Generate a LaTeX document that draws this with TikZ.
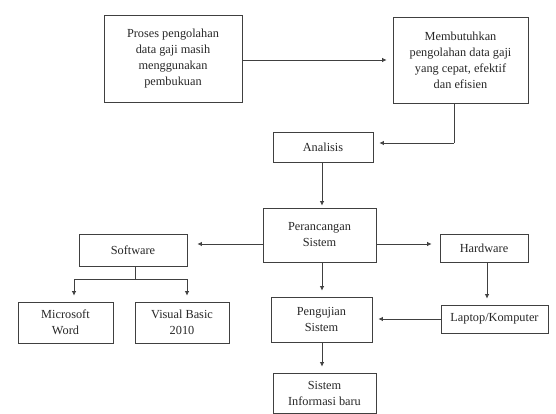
\documentclass[tikz,border=0pt]{standalone}
\usepackage{fontspec}
\setmainfont{Liberation Serif}
\usetikzlibrary{arrows.meta}
\begin{document}
\begin{tikzpicture}[x=1pt,y=-1pt,
  box/.style={draw=black!75, line width=0.8pt, align=center, inner sep=2pt,
    font=\fontsize{12.3}{16}\selectfont, text=black!85},
  link/.style={draw=black!75, line width=0.8pt},
  arr/.style={link, -{Latex[length=4.5pt,width=4.5pt]}, shorten >=6pt}]
\useasboundingbox (0,0) rectangle (556,414);

% process boxes
\node[box, minimum width=138, minimum height=87] (awal) at (173,58.5)
  {Proses pengolahan\\data gaji masih\\menggunakan\\pembukuan};
\node[box, minimum width=135, minimum height=86] (butuh) at (460.5,60)
  {Membutuhkan\\pengolahan data gaji\\yang cepat, efektif\\dan efisien};
\node[box, minimum width=100, minimum height=30] (analisis) at (323,147) {Analisis};
\node[box, minimum width=113, minimum height=54] (rancang) at (319.5,235)
  {Perancangan\\Sistem};
\node[box, minimum width=108, minimum height=32] (soft) at (133,250) {Software};
\node[box, minimum width=88, minimum height=28] (hard) at (484,248) {Hardware};
\node[box, minimum width=95, minimum height=41] (word) at (65.5,322.5)
  {Microsoft\\Word};
\node[box, minimum width=94, minimum height=41] (vb) at (182,322.5)
  {Visual Basic\\2010};
\node[box, minimum width=101, minimum height=45] (uji) at (321.5,319.5)
  {Pengujian\\Sistem};
\node[box, minimum width=107, minimum height=28] (laptop) at (494.5,319)
  {Laptop/Komputer};
\node[box, minimum width=103, minimum height=40] (baru) at (324.5,393)
  {Sistem\\Informasi baru};

% connectors
\draw[arr] ([yshift=-1.5pt]awal.east) -- ([yshift=-1.5pt]awal.east -| butuh.west);
\coordinate (b1) at ([xshift=-6.5pt]butuh.south);
\coordinate (b2) at (b1 |- 0,143);
\draw[link] (b1) -- (b2);
\draw[arr] (b2) -- (b2 -| analisis.east);
\coordinate (v0) at (322,0);
\draw[arr, shorten >=2pt] (v0 |- analisis.south) -- (v0 |- rancang.north);
\draw[arr] (v0 |- rancang.south) -- (v0 |- uji.north);
\draw[arr] (v0 |- uji.south) -- (v0 |- baru.north);
\coordinate (r) at (0,244);
\draw[arr, shorten >=10pt] (r -| rancang.west) -- (r -| soft.east);
\draw[arr, shorten >=8pt] (r -| rancang.east) -- (r -| hard.west);
\coordinate (sj) at ([xshift=2pt]soft.south);
\coordinate (sk) at (sj |- 0,279);
\draw[link] (sj) -- (sk);
\coordinate (wt) at ([xshift=8.5pt]word.north);
\coordinate (vt) at ([xshift=5pt]vb.north);
\draw[link] (wt |- sk) -- (vt |- sk);
\draw[arr] (wt |- sk) -- (wt);
\draw[arr] (vt |- sk) -- (vt);
\coordinate (hj) at ([xshift=3pt]hard.south);
\draw[arr] (hj) -- (hj |- laptop.north);
\draw[arr] (laptop.west) -- (laptop.west -| uji.east);
\end{tikzpicture}
\end{document}
